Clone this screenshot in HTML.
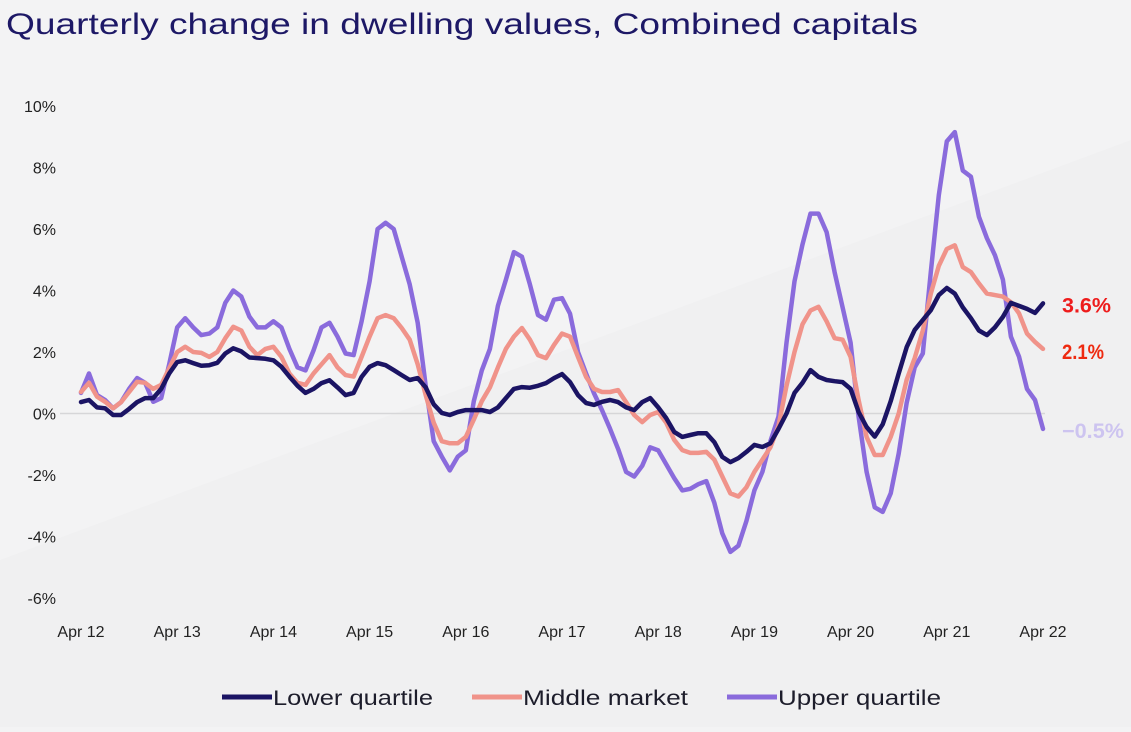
<!DOCTYPE html>
<html><head><meta charset="utf-8"><style>
html,body{margin:0;padding:0;}
body{width:1131px;height:727px;overflow:hidden;background:#f3f3f4;font-family:"Liberation Sans",sans-serif;}
</style></head><body>
<svg id="chart" width="1131" height="727" viewBox="0 0 1131 727" xmlns="http://www.w3.org/2000/svg">
<polygon points="0,560 1131,140 1131,727 0,727" fill="#f0f0f1"/>
<text x="6" y="34" font-size="30" fill="#1d1866" textLength="912" lengthAdjust="spacingAndGlyphs">Quarterly change in dwelling values, Combined capitals</text>
<g id="grid"></g><g id="ylabels"></g><g id="xlabels"></g><g id="lines"></g><g id="endlabels"></g>
<g>
<line x1="222" y1="697" x2="272" y2="697" stroke="#1b1464" stroke-width="5"/>
<text x="273" y="705" font-size="21" fill="#1d1d2b" textLength="160" lengthAdjust="spacingAndGlyphs">Lower quartile</text>
<line x1="472" y1="697" x2="522" y2="697" stroke="#f0938a" stroke-width="5"/>
<text x="523" y="705" font-size="21" fill="#1d1d2b" textLength="165" lengthAdjust="spacingAndGlyphs">Middle market</text>
<line x1="727" y1="697" x2="777" y2="697" stroke="#8a6bdc" stroke-width="5"/>
<text x="778" y="705" font-size="21" fill="#1d1d2b" textLength="163" lengthAdjust="spacingAndGlyphs">Upper quartile</text>
</g>
</svg>
<script>
const yTicks=[10,8,6,4,2,0,-2,-4,-6];
const xTickLabels=["Apr 12","Apr 13","Apr 14","Apr 15","Apr 16","Apr 17","Apr 18","Apr 19","Apr 20","Apr 21","Apr 22"];
const lowerQuartile=[0.37,0.44,0.2,0.17,-0.05,-0.05,0.15,0.37,0.5,0.5,0.8,1.3,1.67,1.73,1.64,1.55,1.57,1.65,1.95,2.12,2.02,1.82,1.8,1.78,1.73,1.52,1.2,0.9,0.67,0.8,0.99,1.08,0.85,0.6,0.67,1.19,1.52,1.64,1.57,1.41,1.25,1.09,1.15,0.85,0.3,0.02,-0.05,0.05,0.11,0.11,0.11,0.05,0.2,0.5,0.8,0.86,0.84,0.9,0.99,1.15,1.28,1.02,0.6,0.34,0.28,0.38,0.44,0.37,0.2,0.11,0.37,0.5,0.2,-0.15,-0.6,-0.76,-0.7,-0.64,-0.64,-0.93,-1.41,-1.58,-1.45,-1.25,-1.02,-1.09,-0.97,-0.5,0.0,0.67,1.0,1.41,1.19,1.09,1.05,1.02,0.8,0.05,-0.44,-0.75,-0.35,0.4,1.3,2.16,2.72,3.04,3.36,3.85,4.08,3.9,3.45,3.1,2.7,2.55,2.8,3.14,3.6,3.5,3.4,3.27,3.58];
const middleMarket=[0.7,1.0,0.55,0.38,0.17,0.37,0.7,1.03,1.0,0.8,0.93,1.47,2.0,2.17,2.0,1.97,1.84,2.0,2.45,2.82,2.7,2.17,1.9,2.1,2.17,1.84,1.3,1.0,0.93,1.3,1.6,1.9,1.5,1.25,1.2,1.84,2.5,3.1,3.2,3.1,2.78,2.4,1.6,0.6,-0.3,-0.9,-0.97,-0.97,-0.76,-0.2,0.4,0.85,1.5,2.1,2.5,2.78,2.4,1.9,1.8,2.23,2.6,2.5,1.84,1.19,0.8,0.7,0.7,0.76,0.37,-0.05,-0.28,-0.05,0.05,-0.3,-0.86,-1.19,-1.28,-1.28,-1.25,-1.5,-2.05,-2.6,-2.7,-2.4,-1.9,-1.5,-1.1,-0.4,0.9,2.0,2.9,3.35,3.47,3.0,2.45,2.4,1.84,0.44,-0.76,-1.35,-1.35,-0.76,0.0,1.1,1.8,2.7,3.9,4.8,5.35,5.47,4.76,4.6,4.23,3.9,3.85,3.8,3.62,3.26,2.6,2.33,2.1];
const upperQuartile=[0.67,1.3,0.6,0.44,0.17,0.37,0.8,1.15,1.0,0.38,0.5,1.6,2.8,3.1,2.8,2.55,2.6,2.8,3.6,4.0,3.8,3.15,2.8,2.8,3.0,2.8,2.1,1.5,1.4,2.05,2.8,2.95,2.5,1.95,1.9,3.0,4.3,6.0,6.2,6.0,5.1,4.2,2.95,0.9,-0.9,-1.4,-1.85,-1.4,-1.2,0.4,1.4,2.1,3.5,4.35,5.25,5.1,4.2,3.2,3.05,3.7,3.75,3.25,2.0,1.3,0.65,0.1,-0.5,-1.15,-1.9,-2.05,-1.7,-1.1,-1.2,-1.65,-2.1,-2.5,-2.45,-2.3,-2.2,-2.9,-3.9,-4.5,-4.3,-3.5,-2.5,-1.9,-0.9,-0.1,2.3,4.3,5.5,6.5,6.5,5.9,4.6,3.45,2.3,-0.1,-1.9,-3.05,-3.2,-2.6,-1.3,0.35,1.5,1.95,4.6,7.1,8.85,9.15,7.9,7.7,6.4,5.7,5.15,4.35,2.5,1.85,0.8,0.44,-0.5];
const NS="http://www.w3.org/2000/svg";
const x=m=>81+m*(962/120);
const y=v=>413.5-v*30.75;
function mk(tag,attrs,parent){const e=document.createElementNS(NS,tag);for(const k in attrs)e.setAttribute(k,attrs[k]);document.getElementById(parent).appendChild(e);return e;}
const z=mk('line',{x1:60,x2:1045,y1:y(0),y2:y(0),stroke:'#d6d6d8','stroke-width':1.5},'grid');


yTicks.forEach(t=>{const e=mk('text',{x:56,y:y(t)+6,'text-anchor':'end','font-size':16,fill:'#222'},'ylabels');e.textContent=t+'%';

});
xTickLabels.forEach((t,i)=>{const e=mk('text',{x:x(i*12),y:637,'text-anchor':'middle','font-size':16,fill:'#222'},'xlabels');e.textContent=t;

});
function series(arr,col,name){const d=arr.map((v,i)=>(i?'L':'M')+x(i).toFixed(1)+','+y(v).toFixed(1)).join(' ');
const p=mk('path',{d:d,fill:'none',stroke:col,'stroke-width':4.5,'stroke-linejoin':'round','stroke-linecap':'round'},'lines');

}
series(upperQuartile,'#8a6bdc','upper-quartile-line');
series(middleMarket,'#f0938a','middle-market-line');
series(lowerQuartile,'#1b1464','lower-quartile-line');
function endLabel(arr,col,name,dy,len){const v=arr[arr.length-1];const e=mk('text',{x:1062,y:y(v)+dy,'font-size':21,fill:col,'font-weight':'bold',textLength:len,lengthAdjust:'spacingAndGlyphs'},'endlabels');e.textContent=v.toFixed(1).replace('-','\u2212')+'%';

}
endLabel(lowerQuartile,'#ee1c1c','end-label-lower',9,49);
endLabel(middleMarket,'#ee2a10','end-label-middle',10,42);
endLabel(upperQuartile,'#cdc4f0','end-label-upper',9,62);
</script>
</body></html>
